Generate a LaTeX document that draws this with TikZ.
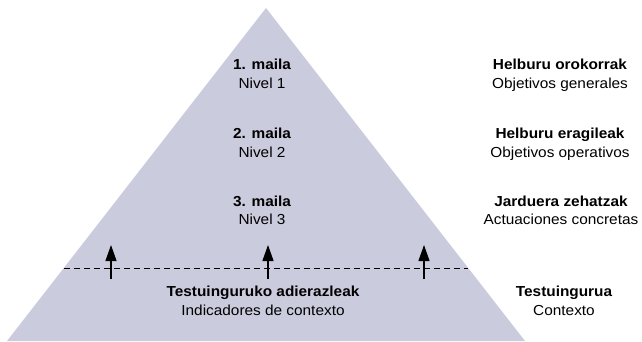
\documentclass[tikz,border=0pt]{standalone}
\usepackage{fontspec}
\setmainfont{Liberation Sans}[FakeStretch=1.06]
\usetikzlibrary{arrows.meta}
\definecolor{pyr}{RGB}{203,203,222}
\definecolor{ink}{RGB}{0,0,0}
\begin{document}
\begin{tikzpicture}[x=1pt,y=-1pt,
  lbl/.style={inner sep=0pt,anchor=base,text=ink,font=\fontsize{14.5}{17}\selectfont},
  lblb/.style={lbl,font=\fontsize{14.5}{17}\selectfont\bfseries},
  uparrow/.style={draw=black,line width=1.2pt,-{Triangle[length=16pt,width=11pt]}},
  sep/.style={draw=black,line width=0.9pt,dash pattern=on 6pt off 4pt}]
\useasboundingbox (0,0) rectangle (642,341);
\fill[pyr] (266,8) -- (525,341) -- (7,341) -- cycle;
% left column
\node[lblb] (m1) at (262,69) {1. maila};
\node[lbl]  (n1) at (262,88) {Nivel 1};
\node[lblb] (m2) at (262,138) {2. maila};
\node[lbl]  (n2) at (262,157) {Nivel 2};
\node[lblb] (m3) at (262,206) {3. maila};
\node[lbl]  (n3) at (262,224) {Nivel 3};
\node[lblb] (tb) at (263,296) {Testuinguruko adierazleak};
\node[lbl]  (tr) at (263,315) {Indicadores de contexto};
% right column
\node[lblb] (h1) at (560,69) {Helburu orokorrak};
\node[lbl]  (o1) at (560,88) {Objetivos generales};
\node[lblb] (h2) at (560,138) {Helburu eragileak};
\node[lbl]  (o2) at (560,157) {Objetivos operativos};
\node[lblb] (h3) at (561,206) {Jarduera zehatzak};
\node[lbl]  (o3) at (561,224) {Actuaciones concretas};
\node[lblb] (h4) at (564,296) {Testuingurua};
\node[lbl]  (o4) at (564,315) {Contexto};
% dashed separator
\coordinate (dl) at (64,268);
\coordinate (dr) at (468,268);
\draw[sep] (dl) -- (dr);
% arrows
\coordinate (a1s) at (111,279); \coordinate (a1e) at (111,245);
\coordinate (a2s) at (268,279); \coordinate (a2e) at (268,245);
\coordinate (a3s) at (424,279); \coordinate (a3e) at (424,245);
\draw[uparrow] (a1s) -- (a1e);
\draw[uparrow] (a2s) -- (a2e);
\draw[uparrow] (a3s) -- (a3e);
\end{tikzpicture}
\end{document}
